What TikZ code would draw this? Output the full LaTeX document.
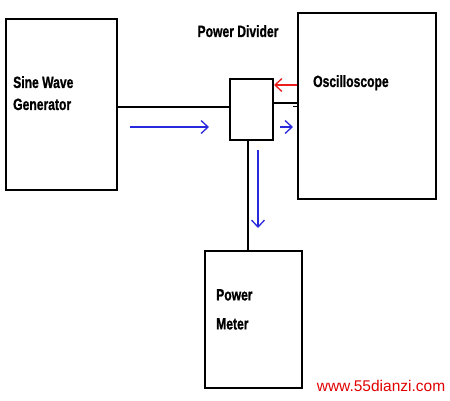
\documentclass[tikz,border=0pt]{standalone}
\usepackage{fontspec}
\setmainfont{Liberation Sans}
\newfontfamily\heavy{Liberation Sans Bold}[FakeBold=1.2]
\usetikzlibrary{arrows.meta}
\definecolor{arrblue}{RGB}{40,40,220}
\definecolor{arrred}{RGB}{235,30,30}
\definecolor{wmred}{RGB}{225,0,0}
\newcommand{\tall}[1]{\scalebox{0.97}[1.3]{#1}}
\begin{document}
\begin{tikzpicture}[x=1pt,y=-1pt,
  box/.style={draw=black,line width=1.6pt,rectangle,inner sep=0pt},
  label/.style={inner sep=0pt,align=left,font=\heavy\fontsize{12.5}{22}\selectfont},
  wire/.style={draw=black,line width=1.6pt},
  barb/.style={line width=1.3pt,-{Straight Barb[length=7pt,width=13pt,line width=1.3pt]}},
  bluearr/.style={barb,draw=arrblue},
  redarr/.style={barb,draw=arrred}]
\useasboundingbox (0,0) rectangle (450,400);
\fill[white] (0,0) rectangle (450,400);
% boxes
\node[box,minimum width=111pt,minimum height=171pt] (gen) at (61.5,104.5) {};
\node[box,minimum width=43pt,minimum height=61pt] (div) at (251.5,109.5) {};
\node[box,minimum width=138pt,minimum height=186pt] (osc) at (367,106) {};
\node[box,minimum width=97pt,minimum height=137pt] (pm) at (253.5,319.5) {};
% labels
\node[label,anchor=north west] (tgen) at (13,76) {\tall{Sine Wave}\\\tall{Generator}};
\node[label,anchor=north west] (tosc) at (313,75) {\tall{Oscilloscope}};
\node[label,anchor=north west,font=\heavy\fontsize{12.5}{29}\selectfont] (tpm) at (216,289) {\tall{Power}\\\tall{Meter}};
\node[label,anchor=north] (tdiv) at (238,25) {\tall{Power Divider}};
% wires
\coordinate (y1) at (0,107);
\coordinate (y2) at (0,103);
\coordinate (y3) at (0,106.5);
\coordinate (vx) at (248,0);
\coordinate (stub) at (293,106.5);
\draw[wire] (gen.east |- y1) -- (div.west |- y1);
\draw[wire] (div.east |- y2) -- (osc.west |- y2);
\draw[wire,line width=1.3pt] (stub) -- (osc.west |- y3);
\draw[wire] (div.south -| vx) -- (pm.north -| vx);
% signal arrows
\coordinate (a1s) at (130,127);
\coordinate (a1e) at (209,127);
\coordinate (a2s) at (280,127);
\coordinate (a2e) at (293,127);
\coordinate (a3s) at (297,85);
\coordinate (a3e) at (274,85);
\coordinate (a4s) at (258,150);
\coordinate (a4e) at (258,228);
\draw[bluearr] (a1s) -- (a1e);
\draw[bluearr] (a2s) -- (a2e);
\draw[redarr] (a3s) -- (a3e);
\draw[bluearr] (a4s) -- (a4e);
% watermark
\node[inner sep=0pt,anchor=base,text=wmred,font=\fontsize{15.5}{18}\selectfont] (wm) at (381,391) {www.55dianzi.com};
\end{tikzpicture}
\end{document}
